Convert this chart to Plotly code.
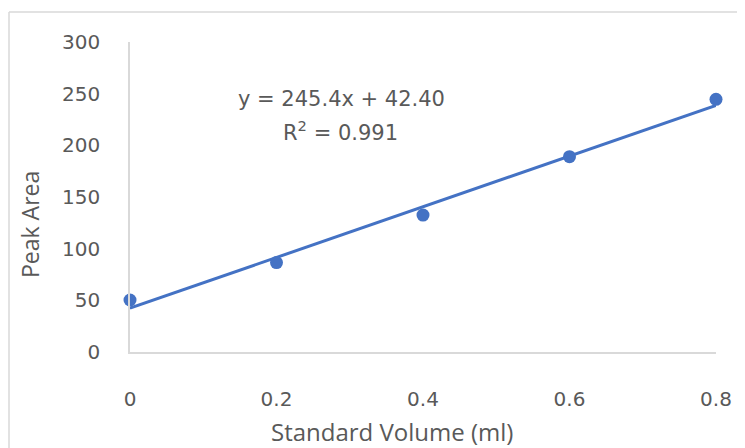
import plotly.graph_objects as go

volume_ml = [0, 0.2, 0.4, 0.6, 0.8]
peak_area = [50.3, 86.5, 132.5, 189.0, 244.5]
slope = 245.4
intercept = 42.40
r_squared = 0.991
x_ticks = [0, 0.2, 0.4, 0.6, 0.8]
y_ticks = [0, 50, 100, 150, 200, 250, 300]
x_title = "Standard Volume (ml)"
y_title = "Peak Area"

trend_x = [min(volume_ml), max(volume_ml)]
trend_y = [slope * x + intercept for x in trend_x]

blue = "#4472C4"
grey_text = "#595959"
num_font = "DejaVu Sans, sans-serif"
txt_font = "Open Sans, Liberation Sans, sans-serif"

# page body has an 8px offset; figure geometry compensates
OFF = 8
W, H = 745 - OFF, 448 - OFF
L, T = 130 - OFF, 42 - OFF
PW, PH = 586, 310
R, B = W - L - PW, H - T - PH


def px(x):
    return (x - OFF - L) / PW


def py(y):
    return 1 - (y - OFF - T) / PH


fig = go.Figure()
fig.add_trace(go.Scatter(x=trend_x, y=trend_y, mode="lines",
                         line=dict(color=blue, width=3), cliponaxis=False,
                         showlegend=False, hoverinfo="skip"))
fig.add_trace(go.Scatter(x=volume_ml, y=peak_area, mode="markers",
                         marker=dict(color=blue, size=13), cliponaxis=False,
                         showlegend=False))

fig.update_layout(
    width=W, height=H,
    margin=dict(l=L, r=R, t=T, b=B),
    paper_bgcolor="white", plot_bgcolor="white",
    font=dict(family=txt_font, color=grey_text, size=19),
    xaxis=dict(range=[0, 0.8], tickvals=x_ticks, ticktext=[f"{v:g}" for v in x_ticks],
               showgrid=False, zeroline=False, showline=True, linecolor="#d9d9d9",
               linewidth=1.5, ticks="", ticklabelstandoff=28,
               tickfont=dict(family=num_font, size=20, color=grey_text)),
    yaxis=dict(range=[0, 300], tickvals=y_ticks, showgrid=False, zeroline=False,
               showline=True, linecolor="#d9d9d9", linewidth=1.5, ticks="",
               ticklabelstandoff=24,
               tickfont=dict(family=num_font, size=20, color=grey_text)),
    annotations=[
        dict(x=px(392), y=py(431), xref="paper", yref="paper",
             xanchor="center", yanchor="middle",
             text=x_title, showarrow=False,
             font=dict(family=txt_font, size=24, color=grey_text)),
        dict(x=px(30), y=py(224), xref="paper", yref="paper",
             xanchor="center", yanchor="middle", textangle=-90,
             text=y_title, showarrow=False,
             font=dict(family=txt_font, size=23, color=grey_text)),
        dict(x=px(341), y=py(99), xref="paper", yref="paper",
             xanchor="center", yanchor="middle",
             text=f"y = {slope:.1f}x + {intercept:.2f}", showarrow=False,
             font=dict(family=num_font, size=21, color=grey_text)),
        dict(x=px(340), y=py(131), xref="paper", yref="paper",
             xanchor="center", yanchor="middle",
             text=f"R<sup>2</sup> = {r_squared:.3f}", showarrow=False,
             font=dict(family=num_font, size=21, color=grey_text)),
    ],
    shapes=[
        dict(type="line", xref="paper", yref="paper",
             x0=px(9), x1=px(9), y0=py(12), y1=py(460),
             line=dict(color="#d9d9d9", width=1.5)),
        dict(type="line", xref="paper", yref="paper",
             x0=px(9), x1=px(760), y0=py(12), y1=py(12),
             line=dict(color="#d9d9d9", width=1.5)),
    ],
)

fig.write_html("out.html")
